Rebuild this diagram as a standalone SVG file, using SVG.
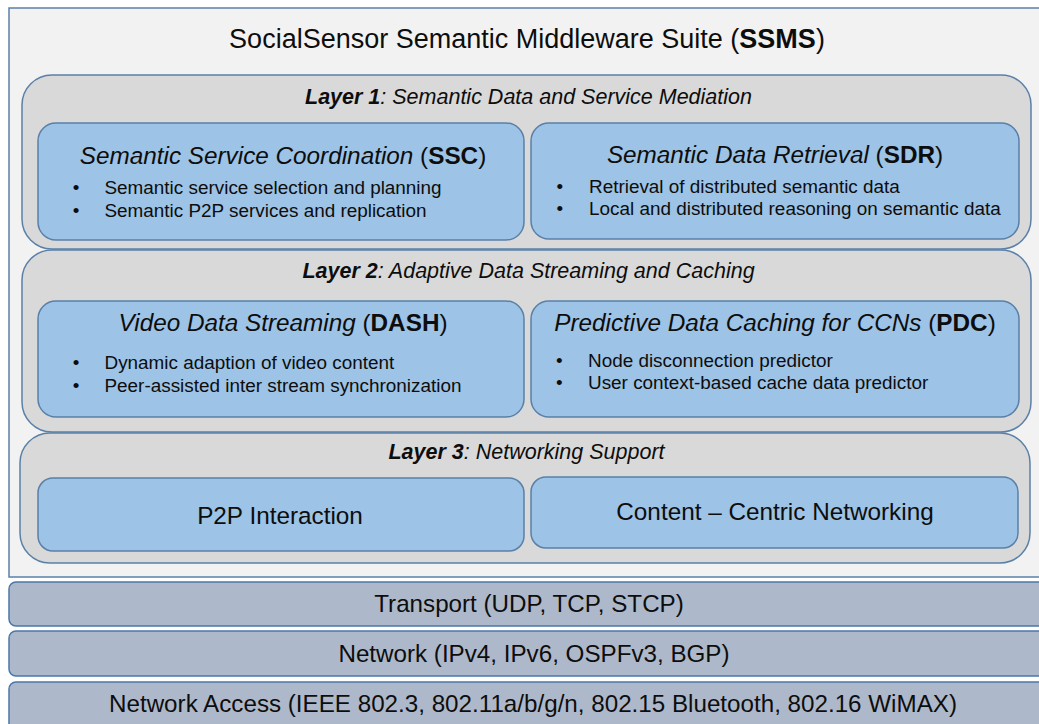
<svg xmlns="http://www.w3.org/2000/svg" width="1039" height="724" viewBox="0 0 1039 724">
  <style>
    text { font-family: "Liberation Sans", Arial, sans-serif; fill: #0d0d0d; }
    .suite { fill: #f2f2f2; stroke: #5a80a8; stroke-width: 1.5; }
    .layer { fill: #d9d9d9; stroke: #5a80a8; stroke-width: 1.5; }
    .comp { fill: #9dc3e6; stroke: #5a80a8; stroke-width: 1.5; }
    .stack { fill: #adb9ca; stroke: #4a78a8; stroke-width: 1.5; }
    .title { font-size: 27px; text-anchor: middle; }
    .lbl { font-size: 21.5px; font-style: italic; text-anchor: middle; }
    .head { font-size: 24.3px; font-style: italic; text-anchor: middle; }
    .item { font-size: 18.9px; }
    .plain { font-size: 24.3px; text-anchor: middle; }
    .proto { font-size: 24.2px; text-anchor: middle; }
    .up { font-style: normal; }
    .b { font-weight: bold; font-style: normal; }
    .bi { font-weight: bold; }
  </style>

  <rect width="1039" height="724" fill="#ffffff"/>

  <!-- middleware suite container -->
  <g id="ssms">
    <rect class="suite" x="9" y="8" width="1040" height="569"/>
    <text class="title" x="527" y="48">SocialSensor Semantic Middleware Suite (<tspan class="b">SSMS</tspan>)</text>
  </g>

  <!-- Layer 1 -->
  <g id="layer1">
    <rect class="layer" x="22" y="75" width="1009" height="174" rx="30" ry="30"/>
    <text class="lbl" x="528.5" y="104"><tspan class="bi">Layer 1</tspan>: Semantic Data and Service Mediation</text>
  </g>
  <g id="ssc">
    <rect class="comp" x="38" y="123" width="486" height="117" rx="18" ry="18"/>
    <text class="head" x="283" y="164">Semantic Service Coordination <tspan class="up">(</tspan><tspan class="b">SSC</tspan><tspan class="up">)</tspan></text>
    <text class="item" x="72.7" y="194">•</text>
    <text class="item" x="104.5" y="194">Semantic service selection and planning</text>
    <text class="item" x="72.7" y="216.5">•</text>
    <text class="item" x="104.5" y="216.5">Semantic P2P services and replication</text>
  </g>
  <g id="sdr">
    <rect class="comp" x="531" y="123" width="488" height="116" rx="18" ry="18"/>
    <text class="head" x="775" y="163">Semantic Data Retrieval <tspan class="up">(</tspan><tspan class="b">SDR</tspan><tspan class="up">)</tspan></text>
    <text class="item" x="556.5" y="193">•</text>
    <text class="item" x="589" y="193">Retrieval of distributed semantic data</text>
    <text class="item" x="556.5" y="214.5">•</text>
    <text class="item" x="589" y="214.5">Local and distributed reasoning on semantic data</text>
  </g>

  <!-- Layer 2 -->
  <g id="layer2">
    <rect class="layer" x="22" y="250" width="1009" height="182" rx="30" ry="30"/>
    <text class="lbl" x="528.5" y="278"><tspan class="bi">Layer 2</tspan>: Adaptive Data Streaming and Caching</text>
  </g>
  <g id="dash">
    <rect class="comp" x="38" y="301" width="486" height="116" rx="18" ry="18"/>
    <text class="head" x="283" y="331">Video Data Streaming <tspan class="up">(</tspan><tspan class="b">DASH</tspan><tspan class="up">)</tspan></text>
    <text class="item" x="72.7" y="369">•</text>
    <text class="item" x="104.5" y="369">Dynamic adaption of video content</text>
    <text class="item" x="72.7" y="391.5">•</text>
    <text class="item" x="104.5" y="391.5">Peer-assisted inter stream synchronization</text>
  </g>
  <g id="pdc">
    <rect class="comp" x="531" y="301" width="488" height="116" rx="18" ry="18"/>
    <text class="head" x="775" y="331">Predictive Data Caching for CCNs <tspan class="up">(</tspan><tspan class="b">PDC</tspan><tspan class="up">)</tspan></text>
    <text class="item" x="556" y="366.5">•</text>
    <text class="item" x="588" y="366.5">Node disconnection predictor</text>
    <text class="item" x="556" y="389">•</text>
    <text class="item" x="588" y="389">User context-based cache data predictor</text>
  </g>

  <!-- Layer 3 -->
  <g id="layer3">
    <rect class="layer" x="20" y="433" width="1010" height="130" rx="30" ry="30"/>
    <text class="lbl" x="526.5" y="459"><tspan class="bi">Layer 3</tspan>: Networking Support</text>
  </g>
  <g id="p2p">
    <rect class="comp" x="38" y="478" width="486" height="73" rx="15" ry="15"/>
    <text class="plain" x="280" y="524">P2P Interaction</text>
  </g>
  <g id="ccn">
    <rect class="comp" x="531" y="477" width="487" height="71" rx="15" ry="15"/>
    <text class="plain" x="775" y="520">Content – Centric Networking</text>
  </g>

  <!-- protocol stack below the middleware -->
  <g id="transport">
    <rect class="stack" x="9" y="582" width="1044" height="44" rx="7" ry="7"/>
    <text class="proto" x="529" y="612">Transport (UDP, TCP, STCP)</text>
  </g>
  <g id="network">
    <rect class="stack" x="9" y="631" width="1044" height="45" rx="7" ry="7"/>
    <text class="proto" x="534" y="662">Network (IPv4, IPv6, OSPFv3, BGP)</text>
  </g>
  <g id="access">
    <rect class="stack" x="9" y="682" width="1044" height="60" rx="7" ry="7"/>
    <text class="proto" x="533" y="712">Network Access (IEEE 802.3, 802.11a/b/g/n, 802.15 Bluetooth, 802.16 WiMAX)</text>
  </g>

  <!-- no connectors in this layered view -->
  <g id="connectors"/>
</svg>
